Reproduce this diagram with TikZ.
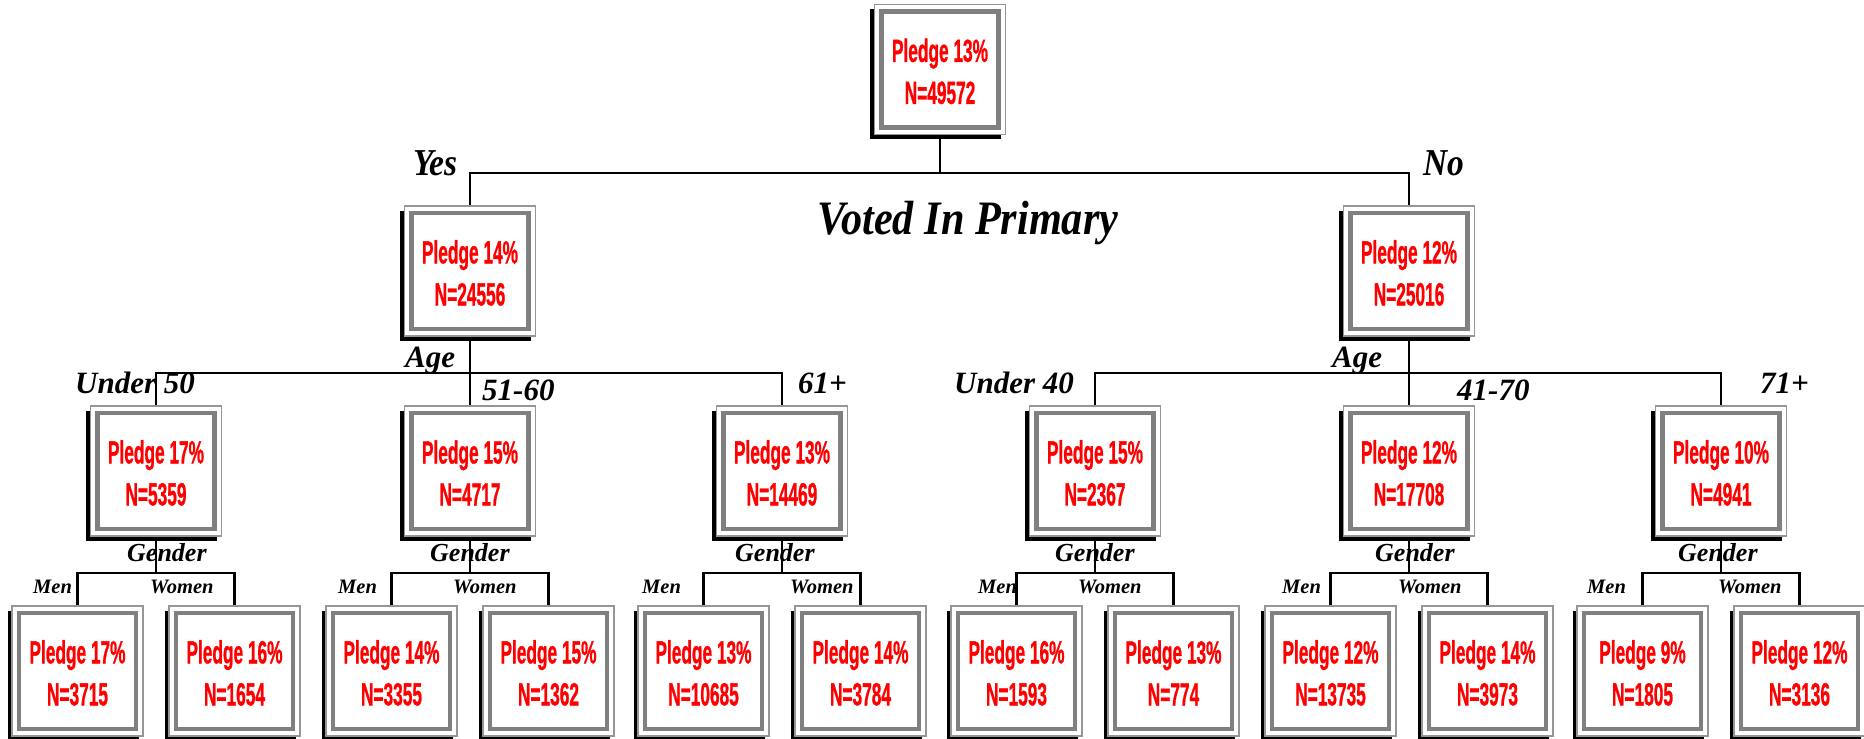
\documentclass[tikz,border=0pt]{standalone}
\usepackage{fontspec}
\usepackage{graphicx}
\newfontfamily\boxfont[FakeBold=1.2]{Liberation Sans Bold}
\newfontfamily\lblfont{Liberation Serif}
\newfontfamily\lblfontN[FakeStretch=0.88]{Liberation Serif}
\definecolor{pred}{RGB}{255,0,0}
\definecolor{bandgray}{RGB}{128,128,128}
\definecolor{edgegray}{RGB}{150,150,150}
\tikzset{
  pbox/.style={draw=edgegray, line width=1.6pt, fill=white,
    minimum width=131pt, minimum height=130pt, inner sep=0pt,
    align=center, text=pred,
    font=\boxfont\fontsize{32}{42}\selectfont,
    preaction={fill=black, transform canvas={shift={(-4.5pt,-4.5pt)}}},
    path picture={\draw[bandgray, line width=4.5pt]
      ([shift={(7pt,7pt)}]path picture bounding box.south west) rectangle
      ([shift={(-7pt,-7pt)}]path picture bounding box.north east);}},
  conn/.style={line width=2.3pt, black},
  lbl/.style={inner sep=0pt, anchor=base west,
    font=\lblfont\bfseries\itshape\fontsize{31}{31}\selectfont},
  biglbl/.style={inner sep=0pt, anchor=base west,
    font=\lblfontN\bfseries\itshape\fontsize{38}{38}\selectfont},
  titlelbl/.style={inner sep=0pt, anchor=base,
    font=\lblfontN\bfseries\itshape\fontsize{48}{48}\selectfont},
  genlbl/.style={inner sep=0pt, anchor=base west,
    font=\lblfont\bfseries\itshape\fontsize{26}{26}\selectfont},
  mwlbl/.style={inner sep=0pt, anchor=base west,
    font=\lblfont\bfseries\itshape\fontsize{20.5}{20.5}\selectfont},
}
\newcommand\nar[1]{\scalebox{0.54}[1]{#1}}
\newcommand\pbx[4]{\node[pbox] (#1) at (#2) {\rule{0pt}{27pt}\nar{Pledge #3\%}\\\nar{N=#4}};}
\begin{document}
\begin{tikzpicture}[x=1pt,y=-1pt]
\useasboundingbox (0,0) rectangle (1864,739);
% boxes
\pbx{t}{940,69.5}{13}{49572}
\pbx{a}{470,271}{14}{24556}
\pbx{b}{1409,271}{12}{25016}
\pbx{a0}{156,471}{17}{5359}
\pbx{a1}{470,471}{15}{4717}
\pbx{a2}{782,471}{13}{14469}
\pbx{b0}{1095,471}{15}{2367}
\pbx{b1}{1409,471}{12}{17708}
\pbx{b2}{1721,471}{10}{4941}
\pbx{a00}{77.5,671}{17}{3715}
\pbx{a01}{234.5,671}{16}{1654}
\pbx{a10}{391.5,671}{14}{3355}
\pbx{a11}{548.5,671}{15}{1362}
\pbx{a20}{703.5,671}{13}{10685}
\pbx{a21}{860.5,671}{14}{3784}
\pbx{b00}{1016.5,671}{16}{1593}
\pbx{b01}{1173.5,671}{13}{774}
\pbx{b10}{1330.5,671}{12}{13735}
\pbx{b11}{1487.5,671}{14}{3973}
\pbx{b20}{1642.5,671}{9}{1805}
\pbx{b21}{1799.5,671}{12}{3136}
% junctions
\coordinate (j0) at (940,173);
\coordinate (ja) at (470,373);
\coordinate (jb) at (1409,373);
\coordinate (ja0) at (156,573);
\coordinate (ja1) at (470,573);
\coordinate (ja2) at (782,573);
\coordinate (jb0) at (1095,573);
\coordinate (jb1) at (1409,573);
\coordinate (jb2) at (1721,573);
% connectors
\draw[conn] (t.south) -- (j0);
\draw[conn] (a.north) |- (j0) -| (b.north);
\draw[conn] (a.south) -- (a1.north);
\draw[conn] (a0.north) |- (ja) -| (a2.north);
\draw[conn] (b.south) -- (b1.north);
\draw[conn] (b0.north) |- (jb) -| (b2.north);
\foreach \p in {a0,a1,a2,b0,b1,b2}{
  \draw[conn] (\p.south) -- (j\p);
  \draw[conn] (\p0.north) |- (j\p) -| (\p1.north);
}
% labels
\node[biglbl] (yes) at (413,175) {Yes};
\node[biglbl] (no) at (1423,175) {No};
\node[titlelbl] (vip) at (968,234) {Voted In Primary};
\node[lbl] (agea) at (405,367) {Age};
\node[lbl] (ageb) at (1332,367) {Age};
\node[lbl] (u50) at (75,393) {Under 50};
\node[lbl] (a5160) at (482,400) {51-60};
\node[lbl] (a61) at (798,393) {61+};
\node[lbl] (u40) at (954,393) {Under 40};
\node[lbl] (a4170) at (1457,400) {41-70};
\node[lbl] (a71) at (1760,393) {71+};
\foreach \n/\x in {ga0/127,ga1/430,ga2/735,gb0/1055,gb1/1375,gb2/1678}
  \node[genlbl] (\n) at (\x,561) {Gender};
\foreach \n/\x in {ma0/33,ma1/338,ma2/642,mb0/978,mb1/1282,mb2/1587}
  \node[mwlbl] (\n) at (\x,593) {Men};
\foreach \n/\x in {wa0/150,wa1/453,wa2/790,wb0/1078,wb1/1398,wb2/1718}
  \node[mwlbl] (\n) at (\x,593) {Women};
\end{tikzpicture}
\end{document}
